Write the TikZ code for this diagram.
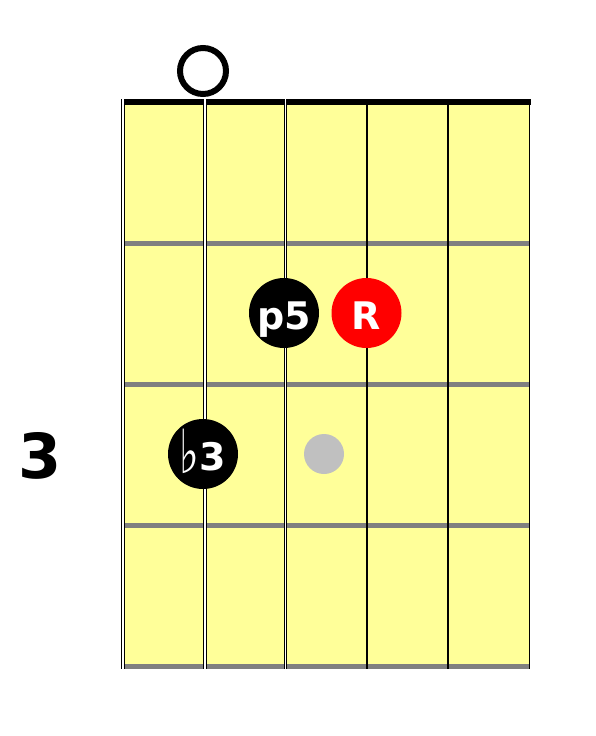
\documentclass[tikz,border=0pt]{standalone}
\usepackage{fontspec}
\setmainfont{DejaVu Sans}
\definecolor{boardyellow}{RGB}{255, 255, 153}
\definecolor{fretgray}{RGB}{128, 128, 128}
\definecolor{rootred}{RGB}{255, 0, 0}
\definecolor{ghostgray}{RGB}{192, 192, 192}
\usetikzlibrary{positioning}

\tikzset{
  fretline/.style={line width=5pt, fretgray},
  woundstring/.style={draw=black, line width=1pt, double=white, double distance=#1},
  plainstring/.style={black, line width=1.5pt},
  notedot/.style={circle, fill=black, text=white, minimum size=70pt, inner sep=0pt,
    font=\fontsize{38}{38}\selectfont\bfseries, text height=33pt, text depth=0pt},
}

\begin{document}
\begin{tikzpicture}[x=1pt, y=-1pt]
  \useasboundingbox (0, 0) rectangle (595, 736);

  % Board
  \fill[boardyellow] (124, 102) rectangle (529, 666);

  % Frets
  \draw[fretline] (124, 243) -- (530, 243);
  \draw[fretline] (124, 384) -- (530, 384);
  \draw[fretline] (124, 525) -- (530, 525);
  \draw[fretline] (124, 666) -- (530, 666);

  % Nut
  \draw[line width=6pt, black] (122, 102) -- (530.5, 102);

  % Strings
  \draw[woundstring=2.2pt] (123.3, 99) -- (123.3, 669);
  \draw[woundstring=2pt] (204.5, 99) -- (204.5, 669);
  \draw[woundstring=1.2pt] (285.7, 99) -- (285.7, 669);
  \draw[plainstring] (366.9, 99) -- (366.9, 669);
  \draw[plainstring] (448.1, 99) -- (448.1, 669);
  \draw[plainstring] (529.3, 99) -- (529.3, 669);

  % Open string
  \node[circle, draw=black, line width=6pt, minimum size=46pt, inner sep=0pt] (openstr) at (203, 71) {};

  % Fret number
  \node[font=\fontsize{62}{62}\selectfont\bfseries, inner sep=0pt] (fretnum) at (40, 456) {3};

  % Chord tones
  \node[notedot] (flatthird) at (203, 454) {\raisebox{-3pt}{\scalebox{1.1}[1.6]{\mdseries ♭}}3};
  \node[notedot] (fifth) at (284, 313) {p5};
  \node[notedot, fill=rootred] (root) at (366.5, 313) {R};
  \node[circle, fill=ghostgray, minimum size=40pt, inner sep=0pt] (ghost) at (324, 454) {};
\end{tikzpicture}
\end{document}
